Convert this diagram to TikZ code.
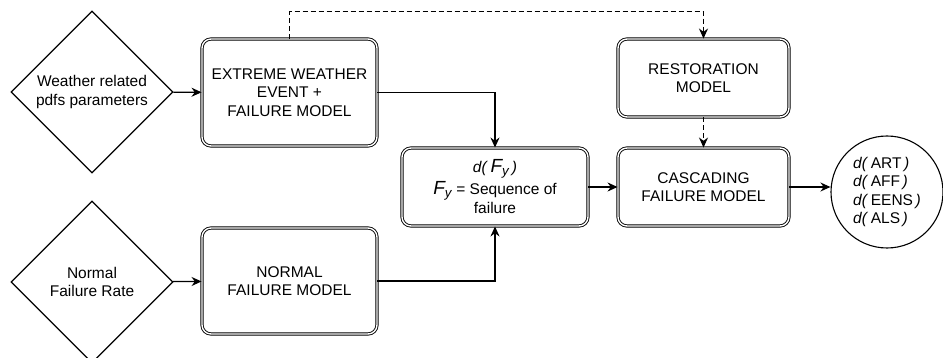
\documentclass[tikz,border=0pt]{standalone}
\usepackage{fontspec}
\setmainfont{Liberation Sans}
\usetikzlibrary{shapes.geometric,arrows.meta}
\newcommand{\Fy}{{\itshape\fontsize{19}{19}\selectfont F\textsubscript{y}}}
\newcommand{\dof}[1]{\textit{d(}\,#1\,\textit{)}}
\begin{document}
\begin{tikzpicture}[x=1pt,y=-1pt,line width=1.3pt,draw=black]
	\tikzstyle{every node}=[text=black,font=\fontsize{15.5}{18.5}\selectfont,align=center]
	\tikzstyle{IN} =[diamond,draw,line width=1.1pt,inner sep=0pt,minimum width=162,minimum height=162] % IN = input data node
	\tikzstyle{MD} =[rectangle,rounded corners=9pt,draw,line width=0.9pt,double,double distance=1.4pt,inner sep=2pt] % MD = model block
	\tikzstyle{OUT}=[circle,draw,line width=1.1pt,inner sep=0pt,minimum size=112,align=left]
	\tikzstyle{arr}=[-{Stealth[length=10pt,width=9pt]}]
	\tikzstyle{dsh}=[arr,dash pattern=on 5pt off 3pt]
	\clip (0,0) rectangle (943,358);
	% inputs
	\node(WR)[IN] at (92,92) {Weather related\\pdfs parameters};
	\node(NR)[IN] at (92,282) {Normal\\Failure Rate};
	% failure models
	\node(EW)[MD,minimum width=175,minimum height=107] at (289.5,92.5) {EXTREME WEATHER\\EVENT +\\FAILURE MODEL};
	\node(NF)[MD,minimum width=175,minimum height=106] at (289.5,281) {NORMAL\\FAILURE MODEL};
	\node(FY)[MD,minimum width=186,minimum height=78] at (495,187) {\dof{\Fy}\\[3pt]\Fy\ = Sequence of\\[1pt]failure};
	% restoration and cascading
	\node(RM)[MD,minimum width=171,minimum height=78] at (703.5,78) {RESTORATION\\MODEL};
	\node(CF)[MD,minimum width=171,minimum height=78] at (703.5,187) {CASCADING\\FAILURE MODEL};
	% outputs
	\node(OT)[OUT] at (887,192) {\dof{ART}\\\dof{AFF}\\\dof{EENS}\\\dof{ALS}};
	% solid connectors
	\draw[arr](WR)--(EW);
	\draw[arr](NR)--(NF);
	\draw[arr](EW)-|(FY);
	\draw[arr](NF)-|(FY);
	\draw[arr](FY)--(CF);
	\draw[arr](CF)--(CF.east-|OT.west);
	% dashed connectors
	\draw[dsh](EW.north)--++(0,-27)-|(RM);
	\draw[dsh](RM)--(CF);
\end{tikzpicture}
\end{document}
